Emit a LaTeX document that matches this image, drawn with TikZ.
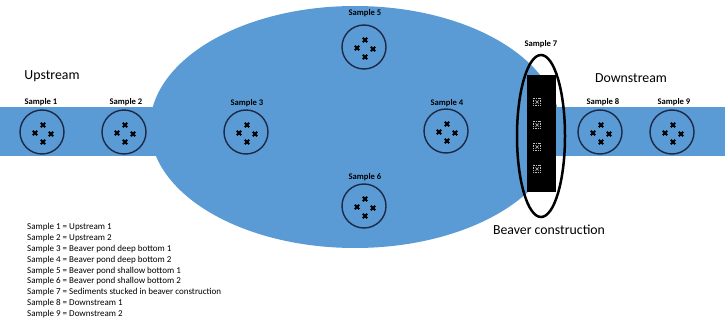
\documentclass[tikz,border=0pt]{standalone}
\usepackage{fontspec}
\setmainfont{Carlito}
\definecolor{water}{RGB}{91,155,213}
\definecolor{navy}{RGB}{28,40,70}
\tikzset{
  samp/.style={circle,draw=navy,line width=1.4pt,minimum size=44pt,inner sep=0pt},
  lab/.style={font=\bfseries\fontsize{8.6}{10}\selectfont,inner sep=0pt},
  big/.style={font=\fontsize{13.8}{16}\selectfont,inner sep=0pt},
  xmark/.style={line width=2pt,black},
  sq/.style={draw=white!75!black,densely dotted,line width=0.6pt,minimum size=7.5pt,inner sep=0pt}
}
\newcommand{\crosses}[1]{%
  \foreach \dx/\dy in {0/-8,-8/0,8/1,0/9}{
    \draw[xmark] ($(#1)+(\dx,\dy)+(1,1)+(-2.2,-2.2)$) -- ++(4.4,4.4);
    \draw[xmark] ($(#1)+(\dx,\dy)+(1,1)+(-2.2,2.2)$) -- ++(4.4,-4.4);
  }}
\usetikzlibrary{calc}
\begin{document}
\begin{tikzpicture}[x=1pt,y=-1pt]
\useasboundingbox (0,0) rectangle (725,323);
% stream and pond
\fill[water] (0,107) rectangle (725,156);
\fill[water] (355,127) ellipse [x radius=205, y radius=121];
% beaver construction
\node[fill=black,minimum width=29pt,minimum height=117pt,inner sep=0pt] (dam) at (541.5,133.5) {};
\foreach \i/\yy in {1/102,2/125,3/147,4/169}{
  \node[sq] (q\i) at (537,\yy) {};
  \draw[white!65!black,line width=0.7pt] ($(q\i)+(-1.6,-1.6)$) -- ($(q\i)+(1.6,1.6)$);
  \draw[white!65!black,line width=0.7pt] ($(q\i)+(-1.6,1.6)$) -- ($(q\i)+(1.6,-1.6)$);
}
\draw[black,line width=2.5pt] (541,136) ellipse [x radius=24, y radius=81];
% sample circles
\node[samp] (s1) at (42,132) {};
\node[samp] (s2) at (124,132) {};
\node[samp] (s3) at (246,132) {};
\node[samp] (s4) at (446,131) {};
\node[samp] (s5) at (364,47) {};
\node[samp] (s6) at (364,206) {};
\node[samp] (s8) at (600,132) {};
\node[samp] (s9) at (672,132) {};
\foreach \s in {s1,s2,s3,s4,s5,s6,s8,s9}{\crosses{\s}}
% labels
\node[lab] (l1) at (41,102) {Sample 1};
\node[lab] (l2) at (126,102) {Sample 2};
\node[lab] (l3) at (247,103) {Sample 3};
\node[lab] (l4) at (447,103) {Sample 4};
\node[lab] (l5) at (365,13) {Sample 5};
\node[lab] (l6) at (365,177) {Sample 6};
\node[lab] (l7) at (541,44) {Sample 7};
\node[lab] (l8) at (603,102) {Sample 8};
\node[lab] (l9) at (674,102) {Sample 9};
\node[big] (up) at (52,76) {Upstream};
\node[big] (down) at (631,78) {Downstream};
\node[big] (bc) at (549,230) {Beaver construction};
% legend
\node[anchor=north west,align=left,inner sep=0pt,font=\fontsize{9}{10.9}\selectfont] (leg) at (27,223) {%
Sample 1 = Upstream 1\\
Sample 2 = Upstream 2\\
Sample 3 = Beaver pond deep bottom 1\\
Sample 4 = Beaver pond deep bottom 2\\
Sample 5 = Beaver pond shallow bottom 1\\
Sample 6 = Beaver pond shallow bottom 2\\
Sample 7 = Sediments stucked in beaver construction\\
Sample 8 = Downstream 1\\
Sample 9 = Downstream 2};
\end{tikzpicture}
\end{document}
